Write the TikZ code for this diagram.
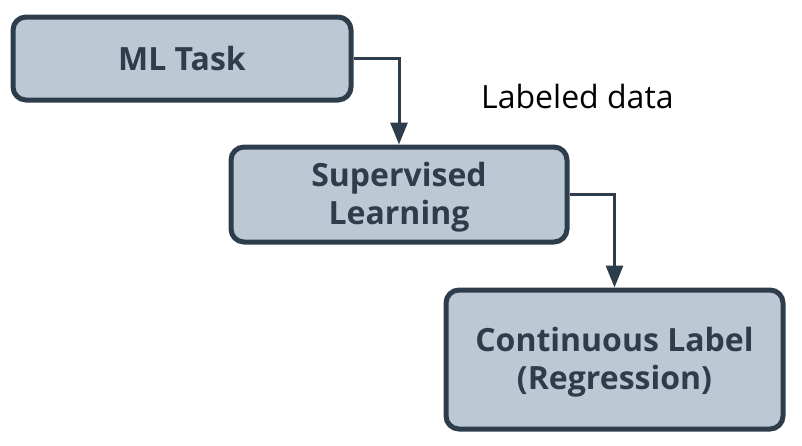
\documentclass[tikz,border=0pt]{standalone}
\usepackage{fontspec}
\setmainfont{Open Sans}
\usetikzlibrary{positioning,calc,arrows.meta}
\definecolor{boxfill}{HTML}{BCC8D4}
\definecolor{boxline}{HTML}{2E3D4C}

\begin{document}
\begin{tikzpicture}[
	x=1pt, y=-1pt,
	task/.style = {rectangle, rounded corners=13pt, draw=boxline, fill=boxfill,
		line width=5pt, align=center, text=boxline,
		font=\fontsize{32}{38}\bfseries\selectfont},
	link/.style = {draw=boxline, line width=3pt,
		-{Triangle[length=22pt,width=17pt]}},
	]
	\useasboundingbox (0,0) rectangle (802,445);
	
	\node[task, minimum width=338pt, minimum height=83pt] (ml) at (182,58.5) {ML Task};
	
	\node[task, minimum width=336pt, minimum height=95pt, text depth=2pt] (sup) at (399,194.5) {Supervised\\Learning};
	
	\node[task, minimum width=337pt, minimum height=139pt, text depth=2pt] (reg) at (614.5,359.5) {Continuous Label\\(Regression)};
	
	\node[anchor=base west, inner sep=0pt, font=\fontsize{32}{38}\selectfont] (lab) at (481,108) {Labeled data};
	
	\draw[link] (ml.east) -| (sup.north);
	\draw[link] (sup.east) -| (reg.north);
	\end{tikzpicture}
\end{document}
